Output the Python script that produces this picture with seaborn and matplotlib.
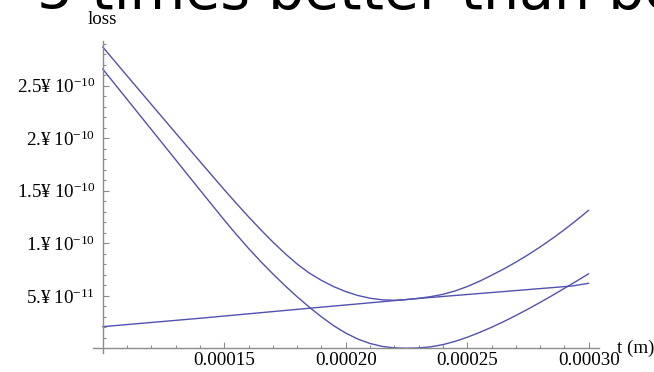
import matplotlib
matplotlib.use("Agg")
import matplotlib.pyplot as plt
from matplotlib.ticker import FixedLocator, FixedFormatter
import numpy as np
import pandas as pd
import seaborn as sns

# ---- data (t in 1e-4 m, loss in 1e-10) ----
t_grid = [1.00, 1.10, 1.20, 1.30, 1.40, 1.45, 1.50, 1.55, 1.60, 1.65, 1.70,
          1.75, 1.80, 1.85, 1.90, 1.95, 2.00, 2.05, 2.10, 2.15, 2.20, 2.25,
          2.30, 2.35, 2.40, 2.45, 2.50, 2.55, 2.60, 2.65, 2.70, 2.75, 2.80,
          2.85, 2.90, 2.95, 3.00]

loss_total = [2.870, 2.596, 2.323, 2.051, 1.780, 1.645, 1.511, 1.380, 1.253,
              1.130, 1.013, 0.903, 0.803, 0.717, 0.647, 0.588, 0.540, 0.503,
              0.477, 0.462, 0.457, 0.4645, 0.476, 0.492, 0.514, 0.546, 0.588,
              0.638, 0.695, 0.755, 0.820, 0.890, 0.965, 1.045, 1.130, 1.220,
              1.315]

loss_part1 = [2.660, 2.372, 2.084, 1.796, 1.508, 1.365, 1.222, 1.084, 0.952,
              0.827, 0.709, 0.597, 0.491, 0.392, 0.300, 0.216, 0.145, 0.088,
              0.046, 0.018, 0.004, 0.0005, 0.0035, 0.014, 0.035, 0.066, 0.105,
              0.150, 0.200, 0.254, 0.312, 0.373, 0.437, 0.503, 0.571, 0.640,
              0.710]

t_part2 = [1.000, 1.400, 1.853, 2.306, 2.930, 3.000]
loss_part2 = [0.206, 0.286, 0.382, 0.476, 0.593, 0.619]

x_major = [1.5e-4, 2.0e-4, 2.5e-4, 3.0e-4]
x_major_labels = ["0.00015", "0.00020", "0.00025", "0.00030"]
y_major = [5e-11, 1e-10, 1.5e-10, 2e-10, 2.5e-10]
y_major_labels = ["5.¥\u200910$^{-11}$", "1.¥\u200910$^{-10}$",
                  "1.5¥\u200910$^{-10}$", "2.¥\u200910$^{-10}$",
                  "2.5¥\u200910$^{-10}$"]
x_minor = [v * 1e-5 for v in range(11, 31)]
y_minor = [v * 1e-11 for v in range(1, 30)]

title_text = "5 times better than be"

# ---- style ----
sns.set_theme(style="white")
plt.rcParams["font.family"] = ["Liberation Serif", "DejaVu Serif"]
plt.rcParams["mathtext.fontset"] = "custom"
plt.rcParams["mathtext.rm"] = "Liberation Serif"
plt.rcParams["mathtext.it"] = "Liberation Serif:italic"

W, H = 654, 372
fig = plt.figure(figsize=(W / 100, H / 100), dpi=100)
fig.patch.set_facecolor("white")
ax = fig.add_axes([0, 0, 1, 1])
ax.set_facecolor("white")

line_color = "#5252b0"
series = [(t_grid, loss_total), (t_grid, loss_part1), (t_part2, loss_part2)]
for tt, ll in series:
    df = pd.DataFrame({"t": np.array(tt) * 1e-4, "loss": np.array(ll) * 1e-10})
    sns.lineplot(data=df, x="t", y="loss", color=line_color, lw=1.0,
                 sort=False, estimator=None, ax=ax)

# pixel mapping of the reference frame
x0_px, px_per_t = 102.7, 24.3 / 1e-5
y0_px, px_per_v = 348.3, 10.5 / 1e-11
ax.set_xlim(1e-4 - x0_px / px_per_t, 1e-4 + (W - x0_px) / px_per_t)
ax.set_ylim(-(H - y0_px) / px_per_v, y0_px / px_per_v)

axis_color = "#8c8c8c"
for s in ["top", "right"]:
    ax.spines[s].set_visible(False)
ax.spines["left"].set_position(("data", 1e-4))
ax.spines["bottom"].set_position(("data", 0.0))
ax.spines["left"].set_bounds(-4.5e-12, 2.93e-10)
ax.spines["bottom"].set_bounds(1e-4 - 9.5 / px_per_t, 1e-4 + 496 / px_per_t)
for s in ["left", "bottom"]:
    ax.spines[s].set_color(axis_color)
    ax.spines[s].set_linewidth(1.0)

ax.xaxis.set_major_locator(FixedLocator(x_major))
ax.xaxis.set_major_formatter(FixedFormatter(x_major_labels))
ax.xaxis.set_minor_locator(FixedLocator(x_minor))
ax.yaxis.set_major_locator(FixedLocator(y_major))
ax.yaxis.set_major_formatter(FixedFormatter(y_major_labels))
ax.yaxis.set_minor_locator(FixedLocator(y_minor))
ax.tick_params(which="both", direction="in", color=axis_color, width=0.8,
               labelsize=13.7, labelcolor="black", bottom=True, left=True)
ax.tick_params(which="major", length=4.2)
ax.tick_params(which="minor", length=2.5)
ax.tick_params(axis="x", which="major", pad=3.0)
ax.tick_params(axis="y", which="major", pad=5.5)
ax.set_xlabel("")
ax.set_ylabel("")
ax.grid(False)

fig.text(102.5 / W, 1 - 24.5 / H, "loss", ha="center", va="baseline",
         fontsize=13.7, color="black")
fig.text(617 / W, 1 - 348 / H, "t (m)", ha="left", va="center",
         fontsize=13.7, color="black")
fig.text(37 / W, 1 - 8.5 / H, title_text, ha="left", va="baseline",
         fontsize=41, color="black", family="DejaVu Sans")

fig.savefig("out.png", dpi=100, facecolor="white")
